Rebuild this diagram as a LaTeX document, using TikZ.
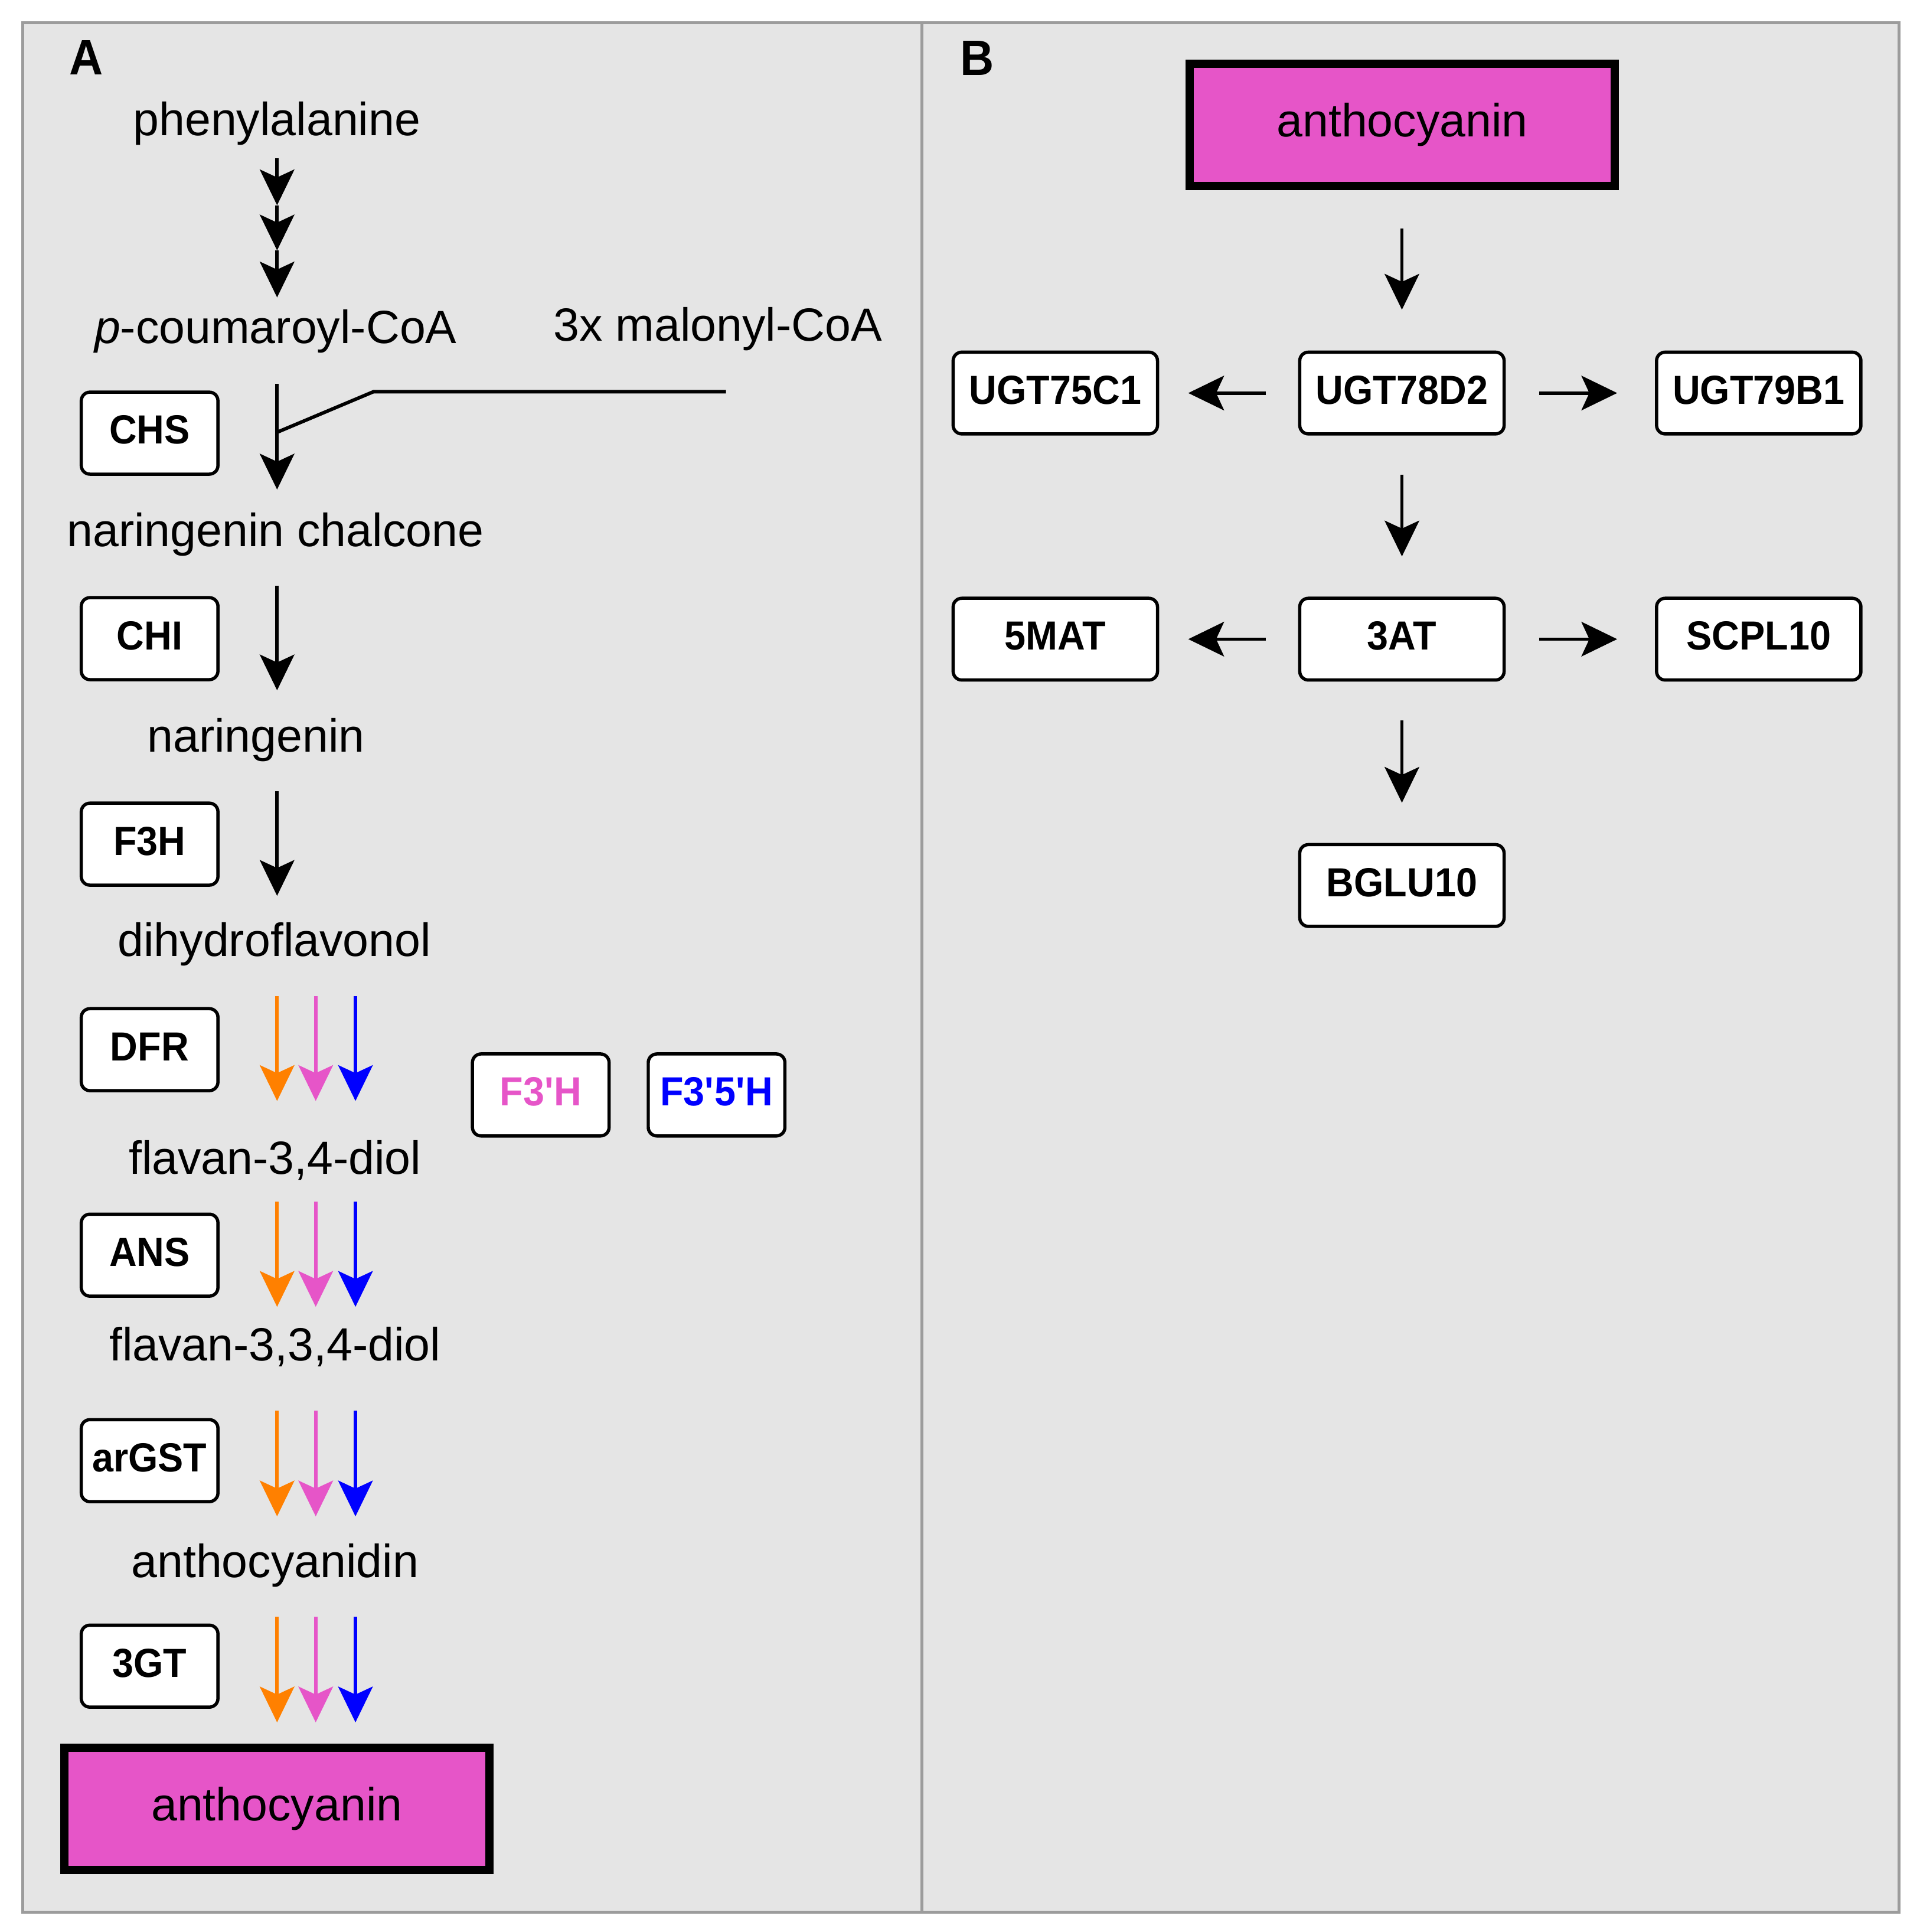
\documentclass[tikz,border=0pt]{standalone}
\usepackage{fontspec}
\setmainfont{Liberation Sans}
\newfontfamily\boxfont{Liberation Sans}[FakeStretch=0.94]
\usetikzlibrary{arrows.meta}
\definecolor{antho}{HTML}{E655C8}
\definecolor{frameg}{HTML}{9C9C9C}
\definecolor{panelbg}{HTML}{E5E5E5}
\definecolor{ornge}{HTML}{FF8000}
\definecolor{blu}{HTML}{0000FF}
\begin{document}
\begin{tikzpicture}[x=0.01cm,y=-0.01cm,
  met/.style={anchor=base, inner sep=0pt, font=\fontsize{10.76pt}{12pt}\selectfont},
  plabel/.style={anchor=base, inner sep=0pt, font=\boxfont\fontsize{11.5pt}{13pt}\selectfont\bfseries},
  enz/.style={draw=black, fill=white, line width=0.75pt, rounded corners=0.07cm,
    minimum width=1.11cm, minimum height=0.666cm, inner sep=0pt, outer sep=0pt,
    text height=6.72pt, text depth=1.7pt,
    font=\boxfont\fontsize{9.39pt}{10pt}\selectfont\bfseries},
  enzB/.style={enz, minimum width=1.66cm, minimum height=0.664cm},
  prod/.style={draw=black, fill=antho, line width=1.9pt, minimum width=3.45cm,
    minimum height=0.99cm, inner sep=0pt, outer sep=0pt,
    font=\fontsize{10.76pt}{12pt}\selectfont},
  arr/.style={line width=0.8pt, -{Stealth[length=0.29cm, width=0.28cm, inset=0.064cm]}},
  conn/.style={line width=0.8pt}
]
% canvas
\fill[white] (0,0) rectangle (1560,1570.06);
\useasboundingbox (0,0) rectangle (1560,1570.06);
\draw[frameg, line width=0.68pt, fill=panelbg] (18.5,18.5) rectangle (1543.5,1553.8);
\draw[frameg, line width=0.68pt] (749.5,18.5) -- (749.5,1553.8);

% panel labels
\node[plabel] (labA) at (70,60.8) {A};
\node[plabel] (labB) at (794,61) {B};

% ---------------- Panel A ----------------
\node[met] (phe) at (225,110) {phenylalanine};
\node[met] (pcoa) at (224,279) {\textit{p}-coumaroyl-CoA};
\node[met] (mal) at (583.4,277) {3x malonyl-CoA};
\node[met] (nch) at (223.8,444) {naringenin chalcone};
\node[met] (nar) at (208,611) {naringenin};
\node[met] (dhf) at (223,777) {dihydroflavonol};
\node[met] (f34) at (223.5,954) {flavan-3,4-diol};
\node[met] (f334) at (223.5,1105.6) {flavan-3,3,4-diol};
\node[met] (acd) at (223.5,1282) {anthocyanidin};
\node[prod] (acnA) at (225,1470) {anthocyanin};

\node[enz] (chs) at (121.6,352) {CHS};
\node[enz] (chi) at (121.6,519) {CHI};
\node[enz] (f3h) at (121.6,686) {F3H};
\node[enz] (dfr) at (121.6,853) {DFR};
\node[enz] (ans) at (121.6,1020) {ANS};
\node[enz] (argst) at (121.6,1187) {arGST};
\node[enz] (gt3) at (121.6,1354) {3GT};
\node[enz, text=antho] (f3ph) at (439.5,889.8) {F3\textquotesingle H};
\node[enz, text=blu] (f35h) at (582.4,889.8) {F3\textquotesingle 5\textquotesingle H};

% triple-step arrow phenylalanine -> p-coumaroyl-CoA
\coordinate (p0) at (225.2,128.5);
\coordinate (p1) at (225.2,166.8);
\coordinate (p2) at (225.2,203.5);
\coordinate (p3) at (225.2,241.7);
\draw[arr] (p0) -- (p1);
\draw[arr] (p1) -- (p2);
\draw[arr] (p2) -- (p3);

% CHS step with malonyl-CoA joining
\coordinate (c0) at (225.2,312);
\coordinate (c1) at (225.2,397.8);
\draw[arr] (c0) -- (c1);
\coordinate (m0) at (590,318.3);
\coordinate (m1) at (303.6,318.3);
\coordinate (m2) at (225.2,351.3);
\draw[conn] (m0) -- (m1) -- (m2);

% CHI, F3H
\coordinate (i0) at (225.2,476);
\coordinate (i1) at (225.2,561);
\draw[arr] (i0) -- (i1);
\coordinate (h0) at (225.2,643);
\coordinate (h1) at (225.2,728);
\draw[arr] (h0) -- (h1);

% coloured triple arrows
\foreach \nm/\ya/\yb in {d/809.7/894.7, a/976.5/1062, g/1146.4/1232.3, t/1313.7/1399.7}{
  \coordinate (\nm o0) at (225.2,\ya);  \coordinate (\nm o1) at (225.2,\yb);
  \coordinate (\nm p0) at (256.6,\ya);  \coordinate (\nm p1) at (256.6,\yb);
  \coordinate (\nm b0) at (288.9,\ya);  \coordinate (\nm b1) at (288.9,\yb);
  \draw[arr, ornge] (\nm o0) -- (\nm o1);
  \draw[arr, antho] (\nm p0) -- (\nm p1);
  \draw[arr, blu] (\nm b0) -- (\nm b1);
}

% ---------------- Panel B ----------------
\node[prod] (acnB) at (1139.7,101.5) {anthocyanin};
\node[enzB] (ugt75) at (857.7,319.4) {UGT75C1};
\node[enzB] (ugt78) at (1139.4,319.4) {UGT78D2};
\node[enzB] (ugt79) at (1429.4,319.4) {UGT79B1};
\node[enzB] (mat5) at (857.7,519.4) {5MAT};
\node[enzB] (at3) at (1139.4,519.4) {3AT};
\node[enzB] (scpl) at (1429.4,519.4) {SCPL10};
\node[enzB] (bglu) at (1139.4,719.6) {BGLU10};

\draw[arr, shorten <=0.345cm, shorten >=0.345cm] (acnB.south -| ugt78) -- (ugt78);
\draw[arr, shorten <=0.33cm, shorten >=0.34cm] (ugt78) -- (at3);
\draw[arr, shorten <=0.33cm, shorten >=0.34cm] (at3) -- (bglu);
\draw[arr, shorten <=0.275cm, shorten >=0.25cm] (ugt78) -- (ugt75);
\draw[arr, shorten <=0.285cm, shorten >=0.32cm] (ugt78) -- (ugt79);
\draw[arr, shorten <=0.275cm, shorten >=0.25cm] (at3) -- (mat5);
\draw[arr, shorten <=0.285cm, shorten >=0.32cm] (at3) -- (scpl);
\end{tikzpicture}
\end{document}
